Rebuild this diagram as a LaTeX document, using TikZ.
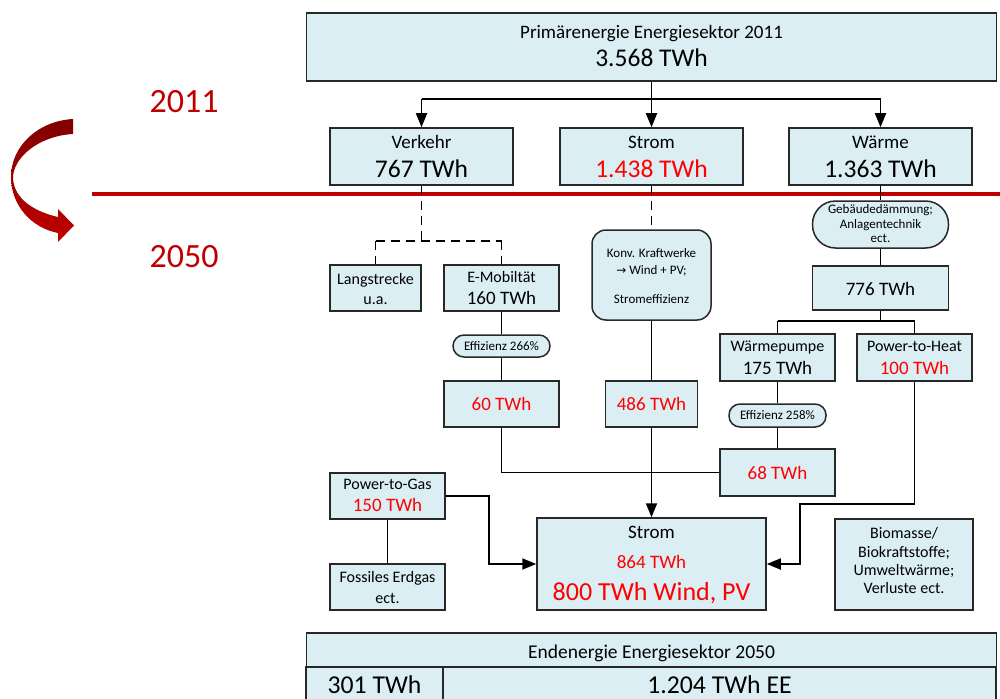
\documentclass[tikz,border=0pt]{standalone}
\usepackage{fontspec}
\setmainfont{Carlito}
\newfontfamily\symfont{DejaVu Sans}
\usetikzlibrary{arrows.meta}
\definecolor{boxfill}{RGB}{219,238,244}
\definecolor{boxline}{RGB}{40,40,40}
\definecolor{txtred}{RGB}{255,0,0}
\definecolor{darkred}{RGB}{192,0,0}
\definecolor{deepred}{RGB}{128,0,0}
\newcommand\fsz[1]{\fontsize{#1}{#1}\selectfont}
\begin{document}
\begin{tikzpicture}[x=1pt,y=-1pt,
  box/.style={draw=boxline, fill=boxfill, line width=1.5pt, inner sep=0pt, rectangle},
  rbox/.style={box, rounded corners=14pt},
  pill/.style={box, rounded corners=11pt},
  lbl/.style={anchor=base, inner sep=0pt},
  conn/.style={line width=1.8pt, black},
  arr/.style={conn, -{Triangle[length=14pt,width=11pt]}},
  dashl/.style={conn, dash pattern=on 9pt off 6pt}]
\useasboundingbox (0,0) rectangle (1000,698);

% ---- boxes ----
\node[box, minimum width=690, minimum height=68] (prim) at (651.5,47) {};
\node[box, minimum width=183, minimum height=57] (verkehr) at (421.5,156.5) {};
\node[box, minimum width=183, minimum height=57] (strom11) at (651.5,156.5) {};
\node[box, minimum width=183, minimum height=57] (waerme) at (880.5,156.5) {};

\node[box, minimum width=91, minimum height=46] (langs) at (375.5,288) {};
\node[box, minimum width=115, minimum height=46] (emob) at (501.5,288) {};
\node[rbox, minimum width=119, minimum height=90] (konv) at (651.5,275) {};
\node[box, rounded corners=23pt, minimum width=136, minimum height=47] (geb) at (880.5,224.5) {};
\node[box, minimum width=136, minimum height=44] (b776) at (880.5,288) {};
\node[box, minimum width=115, minimum height=47] (wp) at (777.5,357.5) {};
\node[box, minimum width=115, minimum height=47] (pth) at (914.5,357.5) {};
\node[pill, minimum width=97, minimum height=22] (eff266) at (501.5,346) {};
\node[box, minimum width=115, minimum height=46] (b60) at (501.5,404) {};
\node[box, minimum width=92, minimum height=46] (b486) at (651.5,404) {};
\node[pill, minimum width=97, minimum height=23] (eff258) at (777.5,415.5) {};
\node[box, minimum width=115, minimum height=47] (b68) at (777.5,472.5) {};
\node[box, minimum width=115, minimum height=46] (p2g) at (387.5,496) {};
\node[box, minimum width=115, minimum height=46] (fossil) at (387.5,587) {};
\node[box, minimum width=229, minimum height=92] (strombig) at (651.5,564) {};
\node[box, minimum width=138, minimum height=91] (bio) at (904,564.5) {};
\node[box, minimum width=690, minimum height=34] (endb) at (651.5,650) {};
\node[box, minimum width=137, minimum height=53] (b301) at (374.5,693.5) {};
\node[box, minimum width=553, minimum height=53] (b1204) at (719.5,693.5) {};

% ---- texts ----
\node[lbl, font=\fsz{19}] at (651.5,39) {Primärenergie Energiesektor 2011};
\node[lbl, font=\fsz{25.5}] at (651.5,67) {3.568 TWh};
\node[lbl, font=\fsz{19}] at (421.5,148) {Verkehr};
\node[lbl, font=\fsz{25.5}] at (421.5,177) {767 TWh};
\node[lbl, font=\fsz{19}] at (651.5,148) {Strom};
\node[lbl, font=\fsz{25.5}, text=txtred] at (651.5,177) {1.438 TWh};
\node[lbl, font=\fsz{19}] at (880.5,148) {Wärme};
\node[lbl, font=\fsz{25.5}] at (880.5,177) {1.363 TWh};

\node[lbl, font=\fsz{34}, text=darkred] at (184,113) {2011};
\node[lbl, font=\fsz{34}, text=darkred] at (184,267) {2050};

\node[lbl, font=\fsz{16}] at (375.5,284) {Langstrecke};
\node[lbl, font=\fsz{16}] at (375.5,304) {u.a.};
\node[lbl, font=\fsz{16}] at (501.5,282) {E-Mobiltät};
\node[lbl, font=\fsz{19}] at (501.5,304) {160 TWh};

\node[lbl, font=\fsz{13}] at (651.5,257) {Konv. Kraftwerke};
\node[lbl, font=\fsz{13}] at (651.5,274) {{\symfont\fsz{12}→} Wind + PV;};
\node[lbl, font=\fsz{13}] at (651.5,303) {Stromeffizienz};

\node[lbl, font=\fsz{13}] at (880.5,213) {Gebäudedämmung;};
\node[lbl, font=\fsz{13}] at (880.5,228) {Anlagentechnik};
\node[lbl, font=\fsz{13}] at (880.5,242) {ect.};
\node[lbl, font=\fsz{19}] at (880.5,295) {776 TWh};

\node[lbl, font=\fsz{16}] at (777.5,351) {Wärmepumpe};
\node[lbl, font=\fsz{19}] at (777.5,374) {175 TWh};
\node[lbl, font=\fsz{16}] at (914.5,351) {Power-to-Heat};
\node[lbl, font=\fsz{19}, text=txtred] at (914.5,374) {100 TWh};

\node[lbl, font=\fsz{13}] at (501.5,350) {Effizienz 266\%};
\node[lbl, font=\fsz{19}, text=txtred] at (501.5,410) {60 TWh};
\node[lbl, font=\fsz{19}, text=txtred] at (651.5,410) {486 TWh};
\node[lbl, font=\fsz{13}] at (777.5,419.5) {Effizienz 258\%};
\node[lbl, font=\fsz{19}, text=txtred] at (777.5,479) {68 TWh};

\node[lbl, font=\fsz{16}] at (387.5,489) {Power-to-Gas};
\node[lbl, font=\fsz{19}, text=txtred] at (387.5,511) {150 TWh};
\node[lbl, font=\fsz{16}] at (387.5,582) {Fossiles Erdgas};
\node[lbl, font=\fsz{16}] at (387.5,603) {ect.};

\node[lbl, font=\fsz{19}] at (651.5,538) {Strom};
\node[lbl, font=\fsz{19}, text=txtred] at (651.5,568) {864 TWh};
\node[lbl, font=\fsz{26}, text=txtred] at (651.5,600) {800 TWh Wind, PV};

\node[lbl, font=\fsz{16}] at (904,538) {Biomasse/};
\node[lbl, font=\fsz{16}] at (904,557) {Biokraftstoffe;};
\node[lbl, font=\fsz{16}] at (904,575) {Umweltwärme;};
\node[lbl, font=\fsz{16}] at (904,593.5) {Verluste ect.};

\node[lbl, font=\fsz{19.5}] at (651.5,658) {Endenergie Energiesektor 2050};
\node[lbl, font=\fsz{25.7}] at (374.5,693) {301 TWh};
\node[lbl, font=\fsz{25.7}] at (719.5,693) {1.204 TWh EE};

% ---- red separator and curved arrow ----
\coordinate (rl1) at (92,194);
\coordinate (rl2) at (1000,194);
\draw[darkred, line width=4pt] (rl1) -- (rl2);
\shade[top color=deepred, bottom color=darkred]
  (73,119) .. controls (38,121) and (11,146) .. (11,177)
  .. controls (11,206) and (32,228) .. (58,233)
  -- (58,242) -- (74,225.5) -- (58,209) -- (58,217)
  .. controls (36,212) and (14,200) .. (13,178)
  .. controls (13,158) and (38,136) .. (73,134) -- cycle;

% ---- connectors ----
\coordinate (split) at (651.5,99);
\draw[arr] (prim.south) -- (strom11.north);
\draw[conn] (verkehr.north |- split) -- (waerme.north |- split);
\draw[arr] (verkehr.north |- split) -- (verkehr.north);
\draw[arr] (waerme.north |- split) -- (waerme.north);

\coordinate (vsplit) at (421.5,241);
\draw[dashl] (verkehr.south) -- (vsplit);
\draw[dashl] (langs.north |- vsplit) -- (emob.north |- vsplit);
\draw[dashl] (langs.north |- vsplit) -- (langs.north);
\draw[dashl] (emob.north |- vsplit) -- (emob.north);
\draw[dashl] (strom11.south) -- (konv.north);

\draw[conn] (waerme.south) -- (geb.north);
\draw[conn] (geb.south) -- (b776.north);
\coordinate (wsplit) at (880.5,321);
\draw[conn] (b776.south) -- (wsplit);
\draw[conn] (wp.north |- wsplit) -- (pth.north |- wsplit);
\draw[conn] (wp.north |- wsplit) -- (wp.north);
\draw[conn] (pth.north |- wsplit) -- (pth.north);

\draw[conn] (emob.south) -- (eff266.north);
\draw[conn] (eff266.south) -- (b60.north);
\draw[conn] (konv.south) -- (b486.north);
\draw[arr] (b486.south) -- (strombig.north);
\draw[conn] (wp.south) -- (eff258.north);
\draw[conn] (eff258.south) -- (b68.north);
\draw[conn] (b60.south) |- (b68.west);

\coordinate (hbend) at (800,504);
\draw[arr] (pth.south) |- (hbend) |- (strombig.east);
\coordinate (gbend) at (489,0);
\draw[arr] (p2g.east) -| (gbend |- strombig.west) -- (strombig.west);
\draw[conn] (p2g.south) -- (fossil.north);
\end{tikzpicture}
\end{document}
